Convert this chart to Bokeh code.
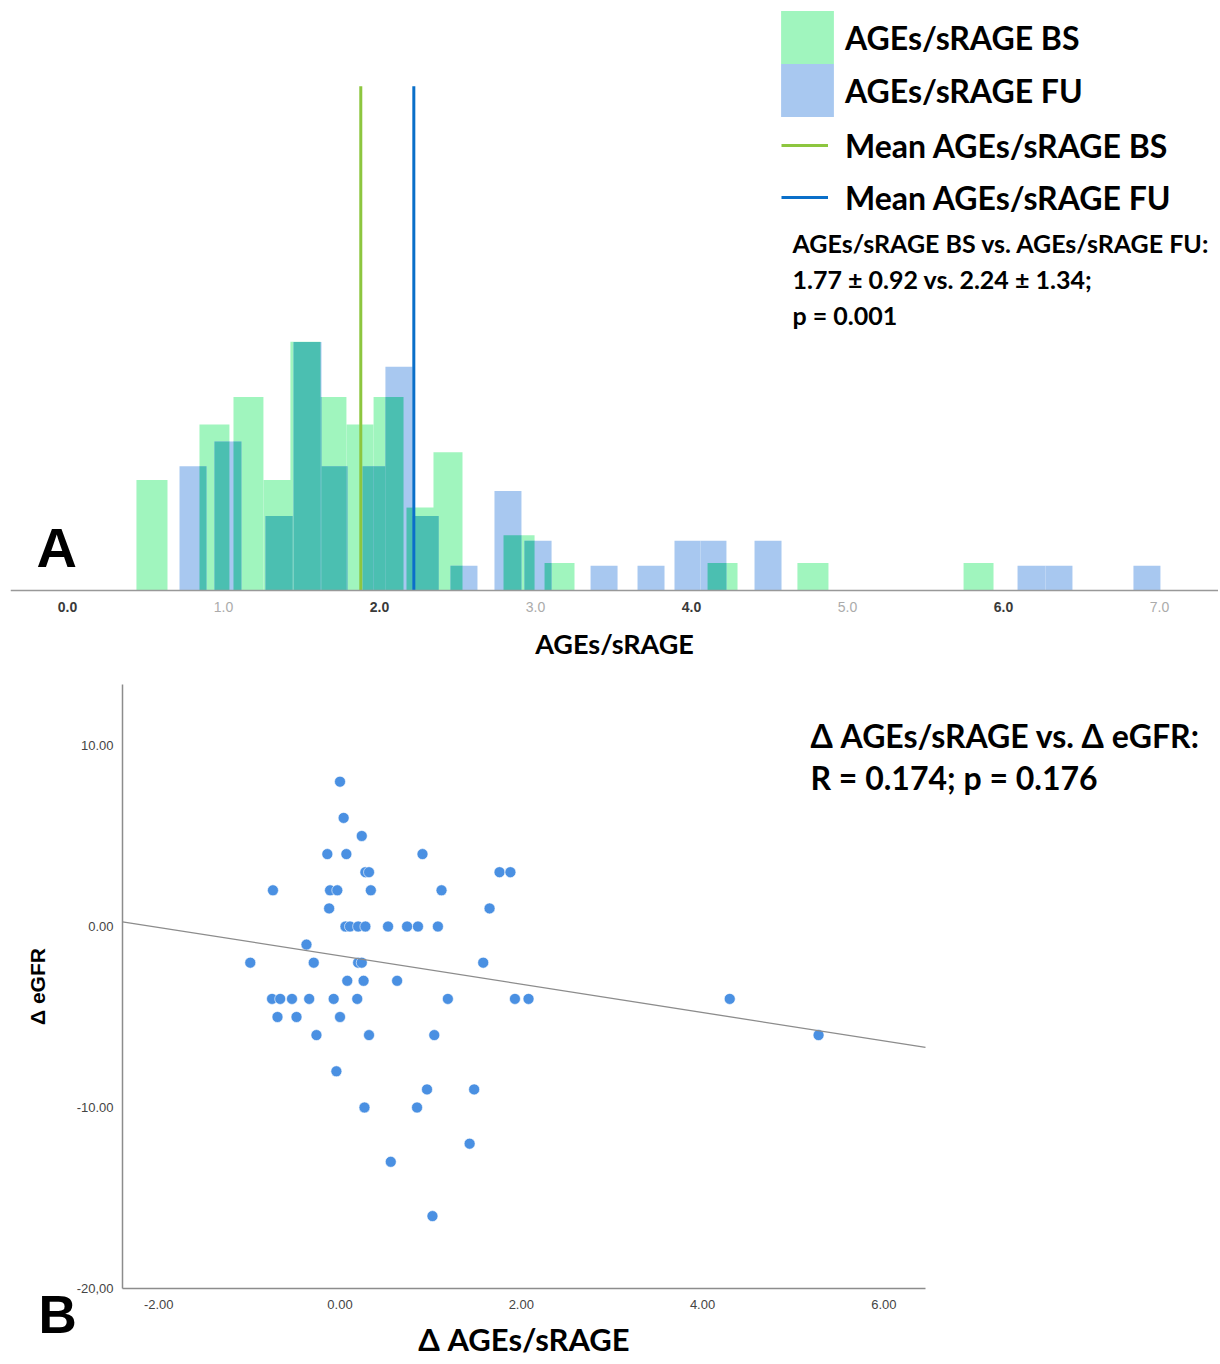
from bokeh.plotting import figure
from bokeh.models import (Range1d, LinearAxis, FixedTicker, Legend, LegendItem,
                          Label, Span, NumeralTickFormatter)
from bokeh.core.properties import value
from bokeh.embed import file_html
from bokeh.resources import INLINE

# ---------------- Panel A: histogram data ----------------
bs_left  = [0.442, 0.846, 1.064, 1.256, 1.429, 1.622, 1.788, 1.962, 2.173, 2.346, 2.795, 3.058, 4.103, 4.679, 5.744]
bs_right = [0.641, 1.038, 1.256, 1.449, 1.622, 1.788, 1.962, 2.154, 2.378, 2.532, 2.994, 3.250, 4.295, 4.878, 5.936]
bs_count = [4, 6, 7, 4, 9, 7, 6, 7, 3, 5, 2, 1, 1, 1, 1]

fu_left  = [0.718, 0.942, 1.269, 1.449, 1.628, 1.891, 2.038, 2.212, 2.455, 2.737, 2.929, 3.353, 3.654, 3.891, 4.058, 4.404, 6.090, 6.269, 6.833]
fu_right = [0.891, 1.115, 1.442, 1.628, 1.795, 2.038, 2.212, 2.378, 2.628, 2.910, 3.103, 3.526, 3.827, 4.058, 4.224, 4.577, 6.269, 6.442, 7.006]
fu_count = [5, 6, 3, 10, 5, 5, 9, 3, 1, 4, 2, 1, 1, 2, 2, 2, 1, 1, 1]

mean_bs = 1.88
mean_fu = 2.22
hist_ticks_even = [0, 2, 4, 6]
hist_ticks_odd = [1, 3, 5, 7]
hist_labels_even = ["0.0", "2.0", "4.0", "6.0"]
hist_labels_odd = ["1.0", "3.0", "5.0", "7.0"]

# ---------------- Panel B: scatter data ----------------
d_ages = [0.00, 0.04, 0.24, -0.14, 0.07, 0.91, 0.28, 0.32, 1.76, 1.88,
          -0.74, -0.11, -0.03, 0.34, 1.12, -0.12, 1.65,
          0.06, 0.11, 0.20, 0.28, 0.53, 0.74, 0.86, 1.08,
          -0.37, -0.99, -0.29, 0.20, 0.24, 1.58, 0.08, 0.26, 0.63,
          -0.75, -0.66, -0.53, -0.34, -0.07, 0.19, 1.19, 1.93, 2.08, 4.30,
          -0.69, -0.48, 0.00, -0.26, 0.32, 1.04, 5.28,
          -0.04, 0.96, 1.48, 0.27, 0.85, 1.43, 0.56, 1.02]
d_egfr = [8, 6, 5, 4, 4, 4, 3, 3, 3, 3,
          2, 2, 2, 2, 2, 1, 1,
          0, 0, 0, 0, 0, 0, 0, 0,
          -1, -2, -2, -2, -2, -2, -3, -3, -3,
          -4, -4, -4, -4, -4, -4, -4, -4, -4, -4,
          -5, -5, -5, -6, -6, -6, -6,
          -8, -9, -9, -10, -10, -12, -13, -16]
fit_intercept = -1.62
fit_slope = -0.783
sc_xticks = [-2, 0, 2, 4, 6]
sc_yticks = [-20, -10, 0, 10]
sc_xlim = (-2.40, 6.46)     # extent of the drawn x axis
sc_ylim = (-20.0, 13.37)    # extent of the drawn y axis

# ---------------- styles / layout ----------------
GREEN = "#A0F5BE"
BLUE = "#A8C8F0"
TEAL = "#4BBFB1"
LINE_GREEN = "#8DC63F"
LINE_BLUE = "#0A6FC9"
DOT = "#4A90E2"
TXT = "Lato"

W = 1218
A_X0_PX, A_XU_PX = 67, 156          # pixel of x=0 and pixels per unit
A_FL, A_FB, A_BASE = 10, 625, 591   # frame left, frame bottom, baseline
H1 = 662
GU, BU = 27.7, 24.9                 # pixels per count (BS / FU)
Y_START_BS, Y_END_BS = -(A_FB - A_BASE) / GU, A_BASE / GU
Y_START_FU, Y_END_FU = -(A_FB - A_BASE) / BU, A_BASE / BU
MEAN_TOP = (A_BASE - 86) / GU

p1 = figure(width=W, height=H1,
            x_range=Range1d((A_FL - A_X0_PX) / A_XU_PX, (W - A_X0_PX) / A_XU_PX),
            y_range=Range1d(Y_START_BS, Y_END_BS),
            output_backend="svg", toolbar_location=None, x_axis_type=None, y_axis_type=None,
            min_border_left=A_FL, min_border_right=0, min_border_top=0, min_border_bottom=H1 - A_FB)
p1.extra_y_ranges = {"fu": Range1d(Y_START_FU, Y_END_FU)}
p1.outline_line_color = None
p1.grid.visible = False

g_r = p1.quad(left=bs_left, right=bs_right, bottom=0, top=bs_count, fill_color=GREEN, line_color=None)
b_r = p1.quad(left=fu_left, right=fu_right, bottom=0, top=fu_count, fill_color=BLUE, line_color=None,
              y_range_name="fu")

ratio = (Y_END_BS - Y_START_BS) / (Y_END_FU - Y_START_FU)
ov_l, ov_r, ov_t = [], [], []
for gl, gr, gc in zip(bs_left, bs_right, bs_count):
    for bl, br, bc in zip(fu_left, fu_right, fu_count):
        l, r = max(gl, bl), min(gr, br)
        if r > l:
            ov_l.append(l)
            ov_r.append(r)
            ov_t.append(min(gc, bc * ratio))
p1.quad(left=ov_l, right=ov_r, bottom=0, top=ov_t, fill_color=TEAL, line_color=None)

mg = p1.segment(x0=[mean_bs], y0=[0], x1=[mean_bs], y1=[MEAN_TOP], line_color=LINE_GREEN, line_width=3)
mb = p1.segment(x0=[mean_fu], y0=[0], x1=[mean_fu], y1=[MEAN_TOP], line_color=LINE_BLUE, line_width=3)

p1.add_layout(Span(location=0, dimension="width", line_color="#999999", line_width=1.5))
p1.text(x=hist_ticks_even, y=[0] * 4, text=hist_labels_even, y_offset=16,
        text_align="center", text_baseline="middle", text_font=value("Liberation Sans"),
        text_font_size="14px", text_font_style="bold", text_color="#3A3A3A")
p1.text(x=hist_ticks_odd, y=[0] * 4, text=hist_labels_odd, y_offset=16,
        text_align="center", text_baseline="middle", text_font=value("Liberation Sans"),
        text_font_size="14px", text_color="#ABABAB")

ax_title = LinearAxis(ticker=FixedTicker(ticks=[]), axis_label="AGEs/sRAGE")
ax_title.axis_line_color = None
ax_title.major_tick_line_color = None
ax_title.minor_tick_line_color = None
ax_title.major_tick_out = 0
ax_title.axis_label_text_font = TXT
ax_title.axis_label_text_font_style = "bold"
ax_title.axis_label_text_font_size = "27px"
ax_title.axis_label_text_color = "#000000"
ax_title.axis_label_standoff = 2
p1.add_layout(ax_title, "below")

leg_kw = dict(padding=0, margin=0, border_line_color=None, background_fill_alpha=0,
              label_text_font=TXT, label_text_font_style="bold",
              label_text_font_size="32px", label_text_color="#000000")
leg_a = Legend(items=[LegendItem(label="AGEs/sRAGE BS", renderers=[g_r])],
               location=(764, 554), glyph_width=66, glyph_height=66, label_standoff=5, **leg_kw)
leg_b = Legend(items=[LegendItem(label="AGEs/sRAGE FU", renderers=[b_r])],
               location=(764, 501), glyph_width=66, glyph_height=66, label_standoff=5, **leg_kw)
leg_c = Legend(items=[LegendItem(label="Mean AGEs/sRAGE BS", renderers=[mg]),
                      LegendItem(label="Mean AGEs/sRAGE FU", renderers=[mb])],
               location=(771, 401), glyph_width=47, glyph_height=52, spacing=0,
               label_standoff=17, **leg_kw)
p1.add_layout(leg_a)
p1.add_layout(leg_b)
p1.add_layout(leg_c)

for txt, yy in [("AGEs/sRAGE BS vs. AGEs/sRAGE FU:", 382),
                ("1.77 ± 0.92 vs. 2.24 ± 1.34;", 346),
                ("p = 0.001", 310)]:
    p1.add_layout(Label(x=782, y=yy, x_units="screen", y_units="screen", text=txt,
                        text_font=TXT, text_font_style="bold", text_font_size="25px",
                        text_color="#000000", text_baseline="alphabetic"))
p1.add_layout(Label(x=26, y=77, x_units="screen", y_units="screen", text="A",
                    text_font="Liberation Sans", text_font_style="bold", text_font_size="56px",
                    text_color="#000000", text_baseline="alphabetic"))

# ---------------- Panel B ----------------
H2 = 700
B_TOP = H1                        # page y of the top of panel B
B_FL, B_FR, B_FT, B_FB = 122, 925, 684, 1288   # drawn axes box (page pixels)
sx = (B_FR - B_FL) / (sc_xlim[1] - sc_xlim[0])
sy = (B_FB - B_FT) / (sc_ylim[1] - sc_ylim[0])
p2 = figure(width=W, height=H2,
            x_range=Range1d(sc_xlim[0] - B_FL / sx, sc_xlim[0] + (W - B_FL) / sx),
            y_range=Range1d(sc_ylim[0] - (B_TOP + H2 - B_FB) / sy, sc_ylim[1] + (B_FT - B_TOP) / sy),
            output_backend="svg", toolbar_location=None, x_axis_type=None, y_axis_type=None,
            min_border_left=0, min_border_right=0, min_border_top=0, min_border_bottom=0)
p2.outline_line_color = None
p2.grid.visible = False

p2.scatter(d_ages, d_egfr, size=11, fill_color=DOT, line_color="white", line_width=0.6)
p2.line(x=list(sc_xlim), y=[fit_intercept + fit_slope * v for v in sc_xlim],
        line_color="#8C8C8C", line_width=1.3)

xax = LinearAxis(ticker=FixedTicker(ticks=sc_xticks), formatter=NumeralTickFormatter(format="0.00"),
                 fixed_location=sc_ylim[0], bounds=sc_xlim, axis_label="Δ AGEs/sRAGE")
yax = LinearAxis(ticker=FixedTicker(ticks=sc_yticks), formatter=NumeralTickFormatter(format="0.00"),
                 fixed_location=sc_xlim[0], bounds=sc_ylim, axis_label="Δ eGFR",
                 major_label_overrides={-20: "-20,00"})
for ax in (xax, yax):
    ax.axis_line_color = "#8C8C8C"
    ax.axis_line_width = 1.5
    ax.major_tick_line_color = None
    ax.minor_tick_line_color = None
    ax.major_tick_out = 0
    ax.major_label_text_font = "Liberation Sans"
    ax.major_label_text_font_size = "13px"
    ax.major_label_text_color = "#444444"
    ax.axis_label_text_color = "#000000"
    ax.axis_label_text_font_style = "bold"
xax.major_label_standoff = 11
yax.major_label_standoff = 9
xax.axis_label_text_font = TXT
xax.axis_label_text_font_size = "31px"
xax.axis_label_standoff = 8
yax.axis_label_text_font = "Liberation Sans"
yax.axis_label_text_font_size = "21px"
yax.axis_label_standoff = 25
p2.add_layout(xax, "below")
p2.add_layout(yax, "left")

for txt, yy in [("Δ AGEs/sRAGE vs. Δ eGFR:", 735), ("R = 0.174; p = 0.176", 777)]:
    p2.add_layout(Label(x=810, y=B_TOP + H2 - yy, x_units="screen", y_units="screen", text=txt,
                        text_font=TXT, text_font_style="bold", text_font_size="32px",
                        text_color="#000000", text_baseline="alphabetic"))
p2.add_layout(Label(x=38, y=B_TOP + H2 - 1314, x_units="screen", y_units="screen", text="B",
                    text_font="Liberation Sans", text_font_style="bold", text_font_size="53px",
                    text_color="#000000", text_baseline="alphabetic"))

open("out.html", "w").write(file_html([p1, p2], INLINE))
